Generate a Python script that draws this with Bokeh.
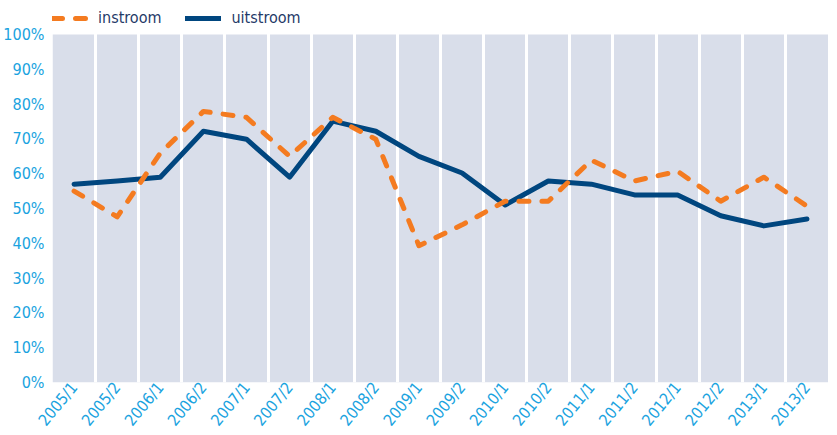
from bokeh.plotting import figure
from bokeh.models import FixedTicker, Legend, LegendItem, Range1d, NumeralTickFormatter, BoxAnnotation
from bokeh.embed import file_html
from bokeh.resources import INLINE

periods = ["2005/1", "2005/2", "2006/1", "2006/2", "2007/1", "2007/2", "2008/1", "2008/2",
           "2009/1", "2009/2", "2010/1", "2010/2", "2011/1", "2011/2", "2012/1", "2012/2",
           "2013/1", "2013/2"]
instroom = [0.550, 0.476, 0.659, 0.779, 0.762, 0.650, 0.762, 0.699, 0.393, 0.453, 0.521, 0.521,
            0.639, 0.579, 0.607, 0.521, 0.590, 0.507]
uitstroom = [0.570, 0.579, 0.590, 0.722, 0.699, 0.590, 0.751, 0.722, 0.650, 0.602, 0.510, 0.579,
             0.570, 0.539, 0.539, 0.479, 0.450, 0.470]
y_ticks = [i / 10 for i in range(11)]

FONT = "DejaVu Sans Condensed"
CYAN = "#1aa3e0"
NAVY = "#00467f"
ORANGE = "#f47b20"

xs = [i + 0.5 for i in range(len(periods))]

GRAY_H = 348
TOP_WHITE = 34
FRAME_H = GRAY_H + TOP_WHITE
p = figure(frame_width=776, frame_height=FRAME_H, output_backend="svg",
           toolbar_location=None,
           x_range=Range1d(0, len(periods)),
           y_range=Range1d(0, FRAME_H / GRAY_H),
           min_border_left=45, min_border_right=0, min_border_top=0, min_border_bottom=0)
p.background_fill_color = "white"
p.border_fill_color = "white"
p.outline_line_color = None

p.add_layout(BoxAnnotation(bottom=0, top=1, fill_color="#d9deea", fill_alpha=1,
                           line_color=None, level="image"))

r_u = p.line(xs, uitstroom, line_color=NAVY, line_width=5, line_join="round", line_cap="round")
r_i = p.line(xs, instroom, line_color=ORANGE, line_width=5, line_dash="10 13",
             line_join="round", line_cap="round")

legend = Legend(items=[LegendItem(label="instroom", renderers=[r_i]),
                       LegendItem(label="uitstroom", renderers=[r_u])],
                orientation="horizontal", location=(0, FRAME_H - 27),
                border_line_color=None, background_fill_alpha=0,
                label_text_font=FONT, label_text_font_size="16px",
                label_text_color="#1f3a68", glyph_width=36, glyph_height=14,
                spacing=24, padding=0, margin=0, label_standoff=10)
p.add_layout(legend, "center")

p.xaxis.ticker = FixedTicker(ticks=xs)
p.xaxis.major_label_overrides = {x: lab for x, lab in zip(xs, periods)}
p.xaxis.major_label_orientation = 0.88
p.xaxis.major_label_text_font = FONT
p.xaxis.major_label_text_font_size = "16px"
p.xaxis.major_label_text_color = CYAN
p.xaxis.axis_line_color = None
p.xaxis.major_tick_line_color = None
p.xaxis.minor_tick_line_color = None
p.xaxis.major_tick_out = 0
p.xaxis.major_tick_in = 0
p.xaxis.minor_tick_out = 0
p.xaxis.major_label_standoff = 2

p.yaxis.ticker = FixedTicker(ticks=y_ticks)
p.yaxis.formatter = NumeralTickFormatter(format="0%")
p.yaxis.major_label_text_font = FONT
p.yaxis.major_label_text_font_size = "16px"
p.yaxis.major_label_text_color = CYAN
p.yaxis.major_label_text_baseline = "top"
p.yaxis.axis_line_color = None
p.yaxis.major_tick_line_color = None
p.yaxis.minor_tick_line_color = None
p.yaxis.major_tick_out = 0
p.yaxis.major_tick_in = 0
p.yaxis.minor_tick_out = 0
p.yaxis.major_label_standoff = 8

p.xgrid.ticker = FixedTicker(ticks=list(range(1, len(periods))))
p.xgrid.grid_line_color = "white"
p.xgrid.grid_line_width = 3
p.ygrid.grid_line_color = None

open("out.html", "w").write(file_html(p, INLINE))
